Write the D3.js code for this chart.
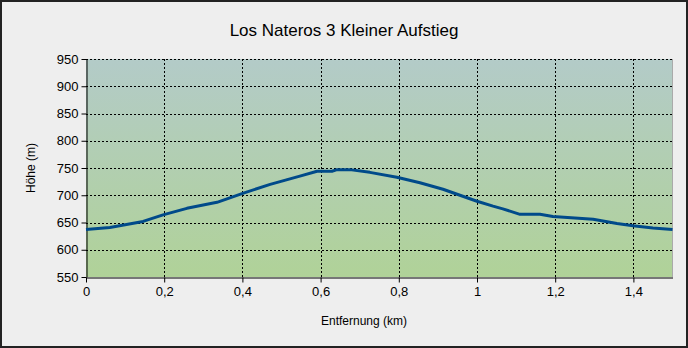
<!DOCTYPE html>
<html><head><meta charset="utf-8">
<script src="https://cdn.jsdelivr.net/npm/d3@7"></script>
<style>body{margin:0;background:#fff}svg{display:block}text{font-family:"Liberation Sans",Arial,sans-serif}</style>
</head><body><svg id="c" width="688" height="348"></svg>
<script>
const title = "Los Nateros 3 Kleiner Aufstieg";
const xLabel = "Entfernung (km)";
const yLabel = "Höhe (m)";
const distanceKm = [0, 0.061, 0.146, 0.197, 0.258, 0.335, 0.399, 0.471, 0.547, 0.591, 0.629, 0.642, 0.675, 0.726, 0.795, 0.854, 0.913, 0.98, 1.0, 1.041, 1.066, 1.11, 1.161, 1.194, 1.297, 1.358, 1.399, 1.45, 1.5];
const elevationM = [637, 641, 652, 664, 676, 687, 703, 720, 735, 744, 744, 747, 747, 742, 733, 723, 711, 694, 689, 680, 675, 665, 665, 661, 656, 648, 644, 640, 637];
const xTicks = [0, 0.2, 0.4, 0.6, 0.8, 1, 1.2, 1.4];
const yTicks = [550, 600, 650, 700, 750, 800, 850, 900, 950];

const svg = d3.select("#c");
const W = 688, H = 348;
const m = {l: 86, r: 688 - 672.5, t: 59, b: 348 - 277};
svg.append("rect").attr("x",1).attr("y",1).attr("width",W-2).attr("height",H-2)
  .attr("fill","#eeeeee").attr("stroke","#222").attr("stroke-width",2);

const x = d3.scaleLinear().domain([0,1.5]).range([m.l, W - m.r]);
const y = d3.scaleLinear().domain([550,950]).range([H - m.b, m.t]);

const defs = svg.append("defs");
const g = defs.append("linearGradient").attr("id","bg").attr("x1",0).attr("y1",0).attr("x2",0).attr("y2",1);
g.append("stop").attr("offset","0%").attr("stop-color","#b3cbc8");
g.append("stop").attr("offset","100%").attr("stop-color","#b0d298");
svg.append("rect").attr("x",x(0)).attr("y",y(950)).attr("width",x(1.5)-x(0)).attr("height",y(550)-y(950)).attr("fill","url(#bg)");
svg.append("line").attr("x1",x(1.5)).attr("x2",x(1.5)).attr("y1",y(950)).attr("y2",y(550)).attr("stroke","#aaaaaa").attr("stroke-width",1);

// grid
svg.append("g").selectAll("line").data(yTicks.filter(d=>d>550)).join("line")
  .attr("x1",x(0)).attr("x2",x(1.5)).attr("y1",d=>Math.round(y(d))+0.5).attr("y2",d=>Math.round(y(d))+0.5)
  .attr("stroke","#000").attr("stroke-dasharray","2,2");
svg.append("g").selectAll("line").data(xTicks.filter(d=>d>0)).join("line")
  .attr("x1",d=>Math.round(x(d))+0.5).attr("x2",d=>Math.round(x(d))+0.5).attr("y1",y(950)).attr("y2",y(550))
  .attr("stroke","#000").attr("stroke-dasharray","2,2");

const fmt = d => String(d).replace(".", ",");
const xa = svg.append("g").attr("transform",`translate(0,${Math.round(y(550))+0.5})`)
  .call(d3.axisBottom(x).tickValues(xTicks).tickFormat(fmt).tickSize(5).tickPadding(4).tickSizeOuter(0));
const ya = svg.append("g").attr("transform",`translate(${Math.round(x(0))+0.5},0)`)
  .call(d3.axisLeft(y).tickValues(yTicks).tickFormat(d=>d).tickSize(5).tickPadding(3).tickSizeOuter(0));
[xa,ya].forEach(a=>{a.selectAll("text").attr("font-size",13).attr("fill","#000").style("font-family",'"Liberation Sans",Arial,sans-serif');
  a.selectAll("line,path").attr("stroke","#000");});

// line
svg.append("path").datum(distanceKm.map((d,i)=>[d,elevationM[i]]))
  .attr("d", d3.line().x(d=>x(d[0])).y(d=>y(d[1])))
  .attr("fill","none").attr("stroke","#004a8a").attr("stroke-width",3).attr("stroke-linejoin","round");

svg.append("text").attr("x",344).attr("y",36).attr("text-anchor","middle").attr("font-size",17).attr("fill","#000").text(title);
svg.append("text").attr("x",364).attr("y",325).attr("text-anchor","middle").attr("font-size",12).attr("fill","#000").text(xLabel);
svg.append("text").attr("transform",`translate(35,${(y(550)+y(950))/2}) rotate(-90)`).attr("text-anchor","middle").attr("font-size",12).attr("fill","#000").text(yLabel);
</script></body></html>
